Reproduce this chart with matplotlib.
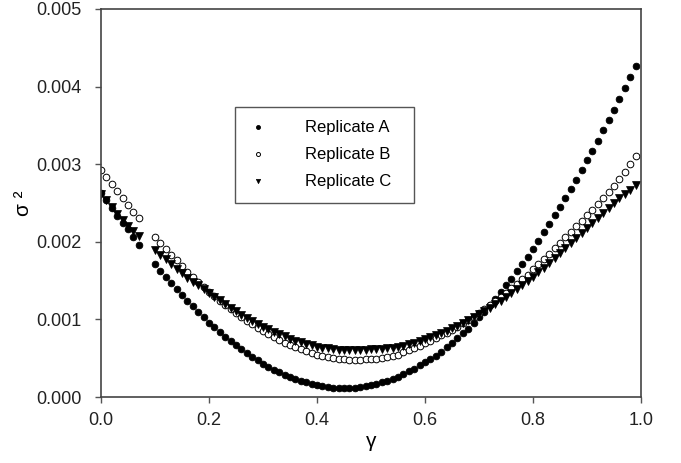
import numpy as np
import matplotlib
matplotlib.use("Agg")
import matplotlib.pyplot as plt
from matplotlib.ticker import FormatStrFormatter

plt.rcParams['font.family'] = ['Liberation Sans', 'DejaVu Sans']

# gamma grid (no points at 0.08 and 0.09)
gamma = [0.00, 0.01, 0.02, 0.03, 0.04, 0.05, 0.06, 0.07] + [round(0.10 + 0.01 * i, 2) for i in range(90)]

# variance values, units of 1e-3
rep_a = [2.633, 2.539, 2.432, 2.333, 2.246, 2.161, 2.058, 1.959,
         1.712, 1.626, 1.546, 1.465, 1.390, 1.315, 1.240, 1.167, 1.095, 1.027,
         0.958, 0.898, 0.833, 0.777, 0.718, 0.666, 0.614, 0.563, 0.515, 0.473,
         0.429, 0.391, 0.352, 0.318, 0.288, 0.258, 0.232, 0.211, 0.189, 0.172,
         0.155, 0.142, 0.129, 0.120, 0.116, 0.112, 0.112, 0.116, 0.125, 0.138,
         0.151, 0.168, 0.189, 0.212, 0.236, 0.262, 0.296, 0.331, 0.365, 0.408,
         0.451, 0.490, 0.533, 0.584, 0.640, 0.700, 0.760, 0.820, 0.880, 0.949,
         1.027, 1.100, 1.181, 1.267, 1.353, 1.439, 1.525, 1.619, 1.714, 1.808,
         1.907, 2.010, 2.120, 2.232, 2.340, 2.450, 2.564, 2.685, 2.800, 2.925,
         3.050, 3.170, 3.300, 3.440, 3.570, 3.700, 3.840, 3.978, 4.120, 4.265]

rep_b = [2.925, 2.831, 2.749, 2.655, 2.564, 2.474, 2.388, 2.302,
         2.062, 1.985, 1.912, 1.835, 1.761, 1.690, 1.615, 1.551, 1.486, 1.422,
         1.357, 1.302, 1.241, 1.186, 1.130, 1.078, 1.027, 0.979, 0.936, 0.889,
         0.846, 0.807, 0.769, 0.735, 0.700, 0.670, 0.640, 0.614, 0.588, 0.567,
         0.546, 0.528, 0.515, 0.503, 0.494, 0.487, 0.482, 0.481, 0.481, 0.485,
         0.490, 0.495, 0.503, 0.511, 0.524, 0.545, 0.574, 0.602, 0.631, 0.661,
         0.692, 0.722, 0.756, 0.795, 0.829, 0.863, 0.906, 0.949, 0.992, 1.035,
         1.087, 1.138, 1.190, 1.241, 1.293, 1.345, 1.400, 1.456, 1.516, 1.578,
         1.645, 1.712, 1.780, 1.848, 1.915, 1.985, 2.058, 2.130, 2.200, 2.270,
         2.340, 2.415, 2.490, 2.565, 2.645, 2.725, 2.810, 2.900, 3.000, 3.100]

rep_c = [2.620, 2.540, 2.450, 2.360, 2.285, 2.205, 2.143, 2.079,
         1.890, 1.830, 1.774, 1.710, 1.649, 1.594, 1.535, 1.486, 1.440, 1.392,
         1.340, 1.293, 1.245, 1.198, 1.150, 1.103, 1.058, 1.016, 0.979, 0.941,
         0.906, 0.872, 0.842, 0.812, 0.780, 0.752, 0.726, 0.704, 0.683, 0.666,
         0.649, 0.636, 0.627, 0.619, 0.612, 0.607, 0.605, 0.605, 0.607, 0.610,
         0.614, 0.619, 0.624, 0.630, 0.638, 0.645, 0.657, 0.679, 0.700, 0.722,
         0.743, 0.769, 0.795, 0.820, 0.855, 0.885, 0.919, 0.958, 0.992, 1.035,
         1.070, 1.108, 1.151, 1.198, 1.241, 1.284, 1.336, 1.388, 1.439, 1.495,
         1.551, 1.607, 1.667, 1.731, 1.787, 1.851, 1.916, 1.980, 2.045, 2.109,
         2.173, 2.238, 2.302, 2.375, 2.436, 2.504, 2.560, 2.616, 2.668, 2.732]

labels = ["Replicate A", "Replicate B", "Replicate C"]

x = np.array(gamma)
fig = plt.figure(figsize=(6.81, 4.63), dpi=100)
ax = fig.add_axes([0.1483, 0.1425, 0.7930, 0.8381])

ax.plot(x, np.array(rep_a) * 1e-3, 'o', ms=4.8, mfc='black', mec='black', mew=0.6, label=labels[0])
ax.plot(x, np.array(rep_b) * 1e-3, 'o', ms=4.8, mfc='white', mec='black', mew=0.7, label=labels[1])
ax.plot(x, np.array(rep_c) * 1e-3, 'v', ms=5.2, mfc='black', mec='black', mew=0.5, label=labels[2])

ax.set_xlim(0, 1.0)
ax.set_ylim(0, 0.005)
ax.set_xticks([0.0, 0.2, 0.4, 0.6, 0.8, 1.0])
ax.set_yticks([0.000, 0.001, 0.002, 0.003, 0.004, 0.005])
ax.xaxis.set_major_formatter(FormatStrFormatter('%.1f'))
ax.yaxis.set_major_formatter(FormatStrFormatter('%.3f'))
ax.tick_params(direction='out', length=4, width=1.0, color='#555555',
               labelsize=13, labelcolor='#222222', top=False, right=False)
ax.tick_params(axis='x', pad=7)
ax.tick_params(axis='y', pad=10)
for sp in ax.spines.values():
    sp.set_color('#444444')
    sp.set_linewidth(1.2)

ax.set_xlabel('γ', fontsize=15, labelpad=2)
ax.set_ylabel('σ ²', fontsize=15, labelpad=2)

leg = ax.legend(loc='upper left', bbox_to_anchor=(0.248, 0.747), fontsize=12,
                markerscale=0.6, frameon=True, fancybox=False, framealpha=1,
                edgecolor='#555555', borderpad=0.8, labelspacing=0.72,
                handletextpad=2.2, handlelength=1.2, borderaxespad=0)
leg.get_frame().set_linewidth(1.0)
# pad the right side of the box a bit like the original
for t in leg.get_texts():
    t.set_text(t.get_text() + '  ')

fig.savefig("out.png", dpi=100)
